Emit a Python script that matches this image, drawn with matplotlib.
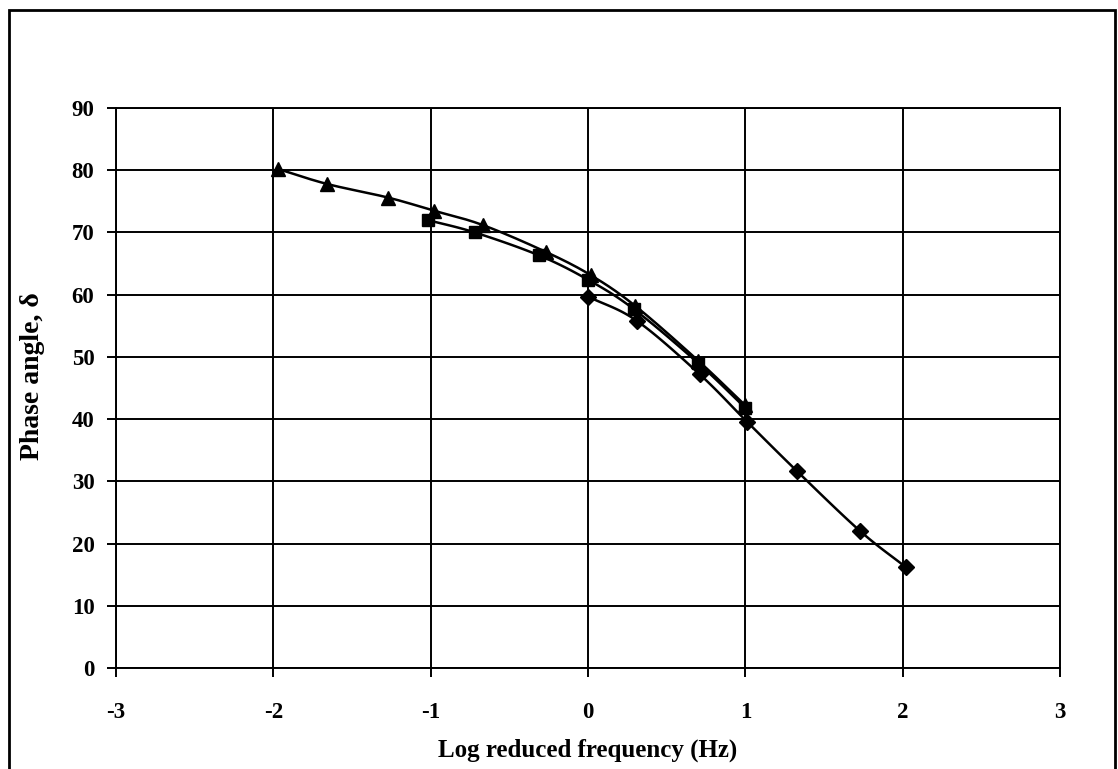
import numpy as np
import matplotlib
matplotlib.use("Agg")
import matplotlib.pyplot as plt
from matplotlib.patches import Rectangle

# Données
tri_x = [-1.97, -1.66, -1.27, -0.98, -0.67, -0.27, 0.02, 0.30, 0.70, 1.00]
tri_y = [80.2, 77.8, 75.6, 73.5, 71.2, 66.9, 63.1, 58.2, 49.4, 42.2]
sq_x = [-1.02, -0.72, -0.31, 0.0, 0.29, 0.70, 1.00]
sq_y = [72.0, 70.0, 66.3, 62.4, 57.7, 49.0, 41.8]
dia_x = [0.0, 0.31, 0.71, 1.01, 1.33, 1.73, 2.02]
dia_y = [59.7, 55.8, 47.2, 39.6, 31.6, 22.0, 16.2]

xticks = [-3, -2, -1, 0, 1, 2, 3]
xlabels = ["-3", "-2", "-1", "0", "1", "2", "3"]
yticks = [0, 10, 20, 30, 40, 50, 60, 70, 80, 90]


def smooth(x, y, n=20):
    # courbe lissée type Catmull-Rom (comme le lissage d'Excel)
    x = np.asarray(x, float)
    y = np.asarray(y, float)
    px = np.concatenate([[2 * x[0] - x[1]], x, [2 * x[-1] - x[-2]]])
    py = np.concatenate([[2 * y[0] - y[1]], y, [2 * y[-1] - y[-2]]])
    xs, ys = [], []
    t = np.linspace(0, 1, n)
    for i in range(1, len(px) - 2):
        for p, out in ((px, xs), (py, ys)):
            p0, p1, p2, p3 = p[i - 1], p[i], p[i + 1], p[i + 2]
            out.extend(0.5 * ((2 * p1) + (-p0 + p2) * t
                              + (2 * p0 - 5 * p1 + 4 * p2 - p3) * t ** 2
                              + (-p0 + 3 * p1 - 3 * p2 + p3) * t ** 3))
    return xs, ys


plt.rcParams["font.family"] = ["Liberation Serif", "DejaVu Serif"]
plt.rcParams["font.weight"] = "bold"

fig = plt.figure(figsize=(11.18, 7.69), dpi=100)
ax = fig.add_axes([116 / 1118, 1 - 668 / 769, (1060 - 116) / 1118, (668 - 108) / 769])

# cadre extérieur
fig.patches.append(Rectangle((9 / 1118, -0.01), (1115 - 9) / 1118, 1 - 10 / 769 + 0.01,
                             transform=fig.transFigure, fill=False, lw=2, ec="black"))

for xs, ys, m, ms in [(tri_x, tri_y, "^", 10), (sq_x, sq_y, "s", 9), (dia_x, dia_y, "D", 8)]:
    lx, ly = smooth(xs, ys)
    ax.plot(lx, ly, color="black", lw=1.8, zorder=3)
    ax.plot(xs, ys, ls="none", marker=m, ms=ms, color="black", zorder=4)

ax.set_xlim(-3, 3)
ax.set_ylim(0, 90)
ax.set_xticks(xticks)
ax.set_xticklabels(xlabels)
ax.set_yticks(yticks)
ax.grid(True, color="black", lw=1.4)
ax.set_axisbelow(True)
for s in ax.spines.values():
    s.set_linewidth(1.4)
ax.tick_params(axis="both", labelsize=16.5, length=6.5, width=1.4, direction="out")
ax.tick_params(axis="x", pad=18)
ax.tick_params(axis="y", pad=9)

ax.set_xlabel("Log reduced frequency (Hz)", fontsize=18, fontweight="bold")
ax.xaxis.label.set_va("center")
ax.xaxis.set_label_coords(0.5, (668 - 750) / 560)
ax.set_ylabel("Phase angle, δ", fontsize=20, fontweight="bold")
ax.yaxis.label.set_va("center")
ax.yaxis.set_label_coords((33 - 116) / 944, (668 - 376) / 560)

fig.savefig("out.png", dpi=100)
